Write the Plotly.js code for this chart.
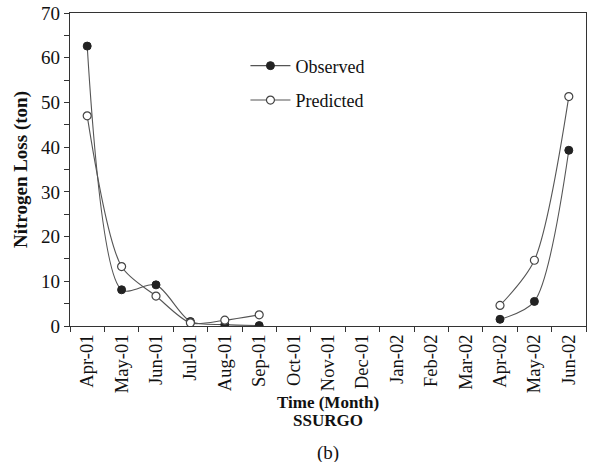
<!DOCTYPE html>
<html>
<head>
<meta charset="utf-8">
<script src="https://cdn.plot.ly/plotly-3.0.1.min.js"></script>
<style>html,body{margin:0;padding:0;background:#fff;}#chart{width:589px;height:462px;}</style>
</head>
<body>
<div id="chart"></div>
<script>
var months = ["Apr-01","May-01","Jun-01","Jul-01","Aug-01","Sep-01","Oct-01","Nov-01","Dec-01","Jan-02","Feb-02","Mar-02","Apr-02","May-02","Jun-02"];
var observed = [62.6, 8.1, 9.2, 1.0, 0.3, 0.1, null, null, null, null, null, null, 1.5, 5.5, 39.3];
var predicted = [47.0, 13.3, 6.7, 0.7, 1.3, 2.5, null, null, null, null, null, null, 4.6, 14.7, 51.3];
var xTitle = "Time (Month)";
var subTitle = "SSURGO";
var panelLabel = "(b)";

var font = "Liberation Serif, Times New Roman, serif";
var traces = [
  {x: months, y: observed, name: "Observed", type: "scatter", mode: "lines+markers",
   connectgaps: false, legendgroup: "a",
   line: {color: "#555", width: 1.1, shape: "spline", smoothing: 0.8},
   marker: {symbol: "circle", size: 8, color: "#222", line: {color: "#222", width: 1}}},
  {x: months, y: predicted, name: "Predicted", type: "scatter", mode: "lines+markers",
   connectgaps: false, legendgroup: "b",
   line: {color: "#555", width: 1.1, shape: "spline", smoothing: 0.8},
   marker: {symbol: "circle", size: 8, color: "#fff", line: {color: "#444", width: 1.2}}}
];
var layout = {
  width: 589, height: 462,
  margin: {l: 70, r: 3, t: 13, b: 136},
  paper_bgcolor: "#fff", plot_bgcolor: "#fff",
  font: {family: font, size: 18, color: "#111"},
  showlegend: true,
  legend: {x: 0.34, y: 0.89, xanchor: "left", yanchor: "top", bgcolor: "rgba(0,0,0,0)",
           font: {family: font, size: 18, color: "#111"}, tracegroupgap: 8, itemwidth: 40},
  xaxis: {
    type: "category", range: [-0.5, 14.5], tickson: "boundaries",
    tickangle: -90, ticks: "outside", ticklen: 5, tickcolor: "#333",
    showline: true, linecolor: "#333", linewidth: 1.2, mirror: true,
    showgrid: false, zeroline: false,
    tickfont: {family: font, size: 18.5, color: "#111"}
  },
  yaxis: {
    range: [0, 70], dtick: 10, ticks: "outside", ticklen: 5, tickcolor: "#333",
    minor: {dtick: 5, ticks: "outside", ticklen: 5, tickcolor: "#333"},
    showline: true, linecolor: "#333", linewidth: 1.2, mirror: true,
    showgrid: false, zeroline: false,
    tickfont: {family: font, size: 19, color: "#111"},
    title: {text: "<b>Nitrogen Loss (ton)</b>", standoff: 8, font: {family: font, size: 19, color: "#111"}}
  },
  annotations: [
    {text: "<b>" + xTitle + "</b>", xref: "paper", yref: "paper", x: 0.5, y: -0.244, xanchor: "center", yanchor: "middle",
     showarrow: false, font: {family: font, size: 17, color: "#111"}},
    {text: "<b>" + subTitle + "</b>", xref: "paper", yref: "paper", x: 0.5, y: -0.303, xanchor: "center", yanchor: "middle",
     showarrow: false, font: {family: font, size: 17, color: "#111"}},
    {text: panelLabel, xref: "paper", yref: "paper", x: 0.5, y: -0.405, xanchor: "center", yanchor: "middle",
     showarrow: false, font: {family: font, size: 19, color: "#111"}}
  ]
};
Plotly.newPlot("chart", traces, layout, {displayModeBar: false, staticPlot: true});
</script>
</body>
</html>
